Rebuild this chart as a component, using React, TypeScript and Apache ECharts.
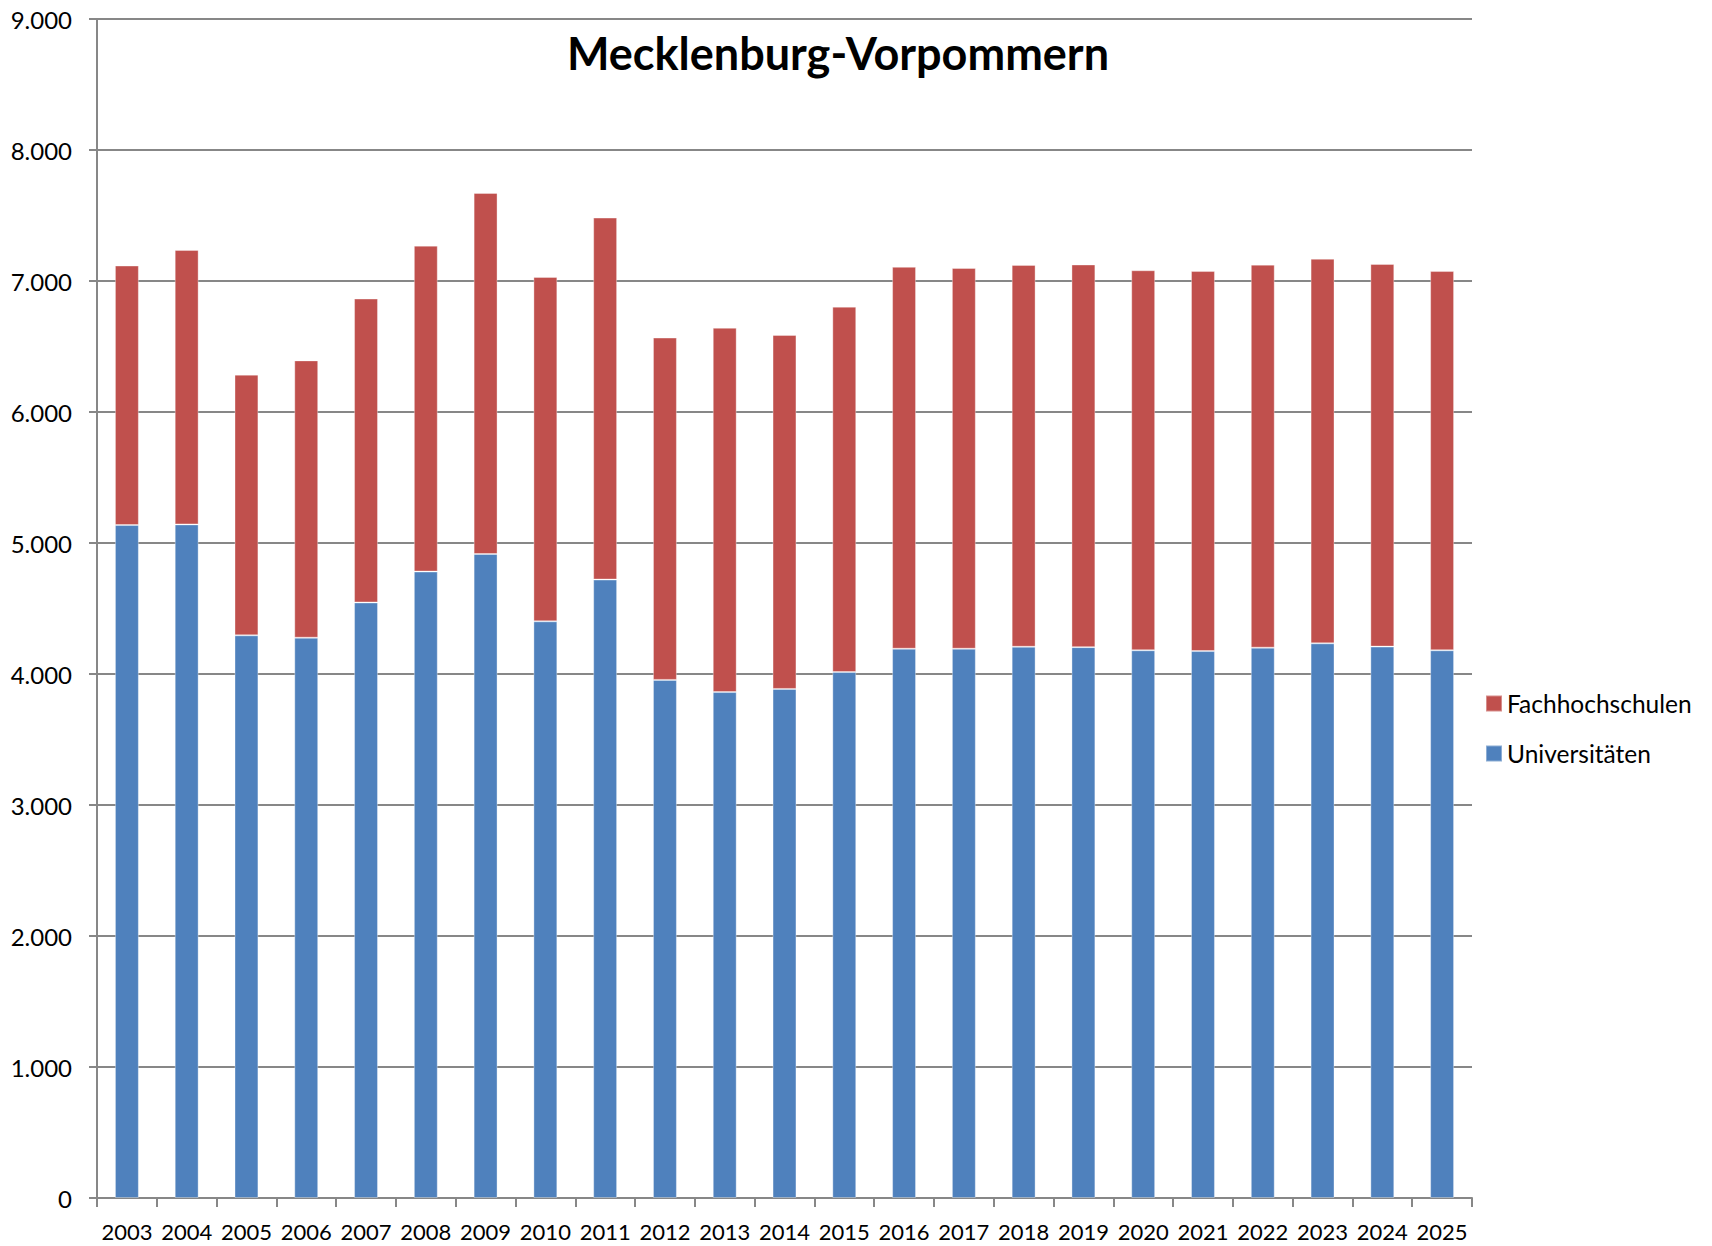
import React, { useEffect, useRef } from "react";
import * as echarts from "echarts";

const years = ["2003","2004","2005","2006","2007","2008","2009","2010","2011","2012","2013","2014","2015","2016","2017","2018","2019","2020","2021","2022","2023","2024","2025"];
const universitaeten = [5137,5142,4295,4277,4546,4782,4916,4402,4721,3955,3862,3886,4015,4193,4193,4208,4205,4181,4175,4201,4234,4209,4181];
const fachhochschulen = [1981,2095,1990,2117,2320,2488,2756,2629,2763,2613,2781,2702,2789,2915,2906,2915,2921,2901,2901,2924,2936,2921,2895];
const yTicks = [0, 1000, 2000, 3000, 4000, 5000, 6000, 7000, 8000, 9000];

const FONT = "Lato, 'Open Sans', sans-serif";
const GRAY = "#878787";

export default function App() {
  const ref = useRef<HTMLDivElement>(null);
  useEffect(() => {
    if (!ref.current) return;
    const chart = echarts.init(ref.current, null, { renderer: "svg" });
    chart.setOption({
      animation: false,
      backgroundColor: "#ffffff",
      title: {
        text: "Mecklenburg-Vorpommern",
        left: 833,
        textAlign: "center",
        top: 25,
        textStyle: { fontFamily: FONT, fontWeight: "bold", fontSize: 45, color: "#000" },
      },
      legend: {
        orient: "vertical",
        left: 1480,
        top: 686,
        itemWidth: 16,
        itemHeight: 16,
        itemGap: 25,
        icon: "rect",
        data: ["Fachhochschulen", "Universitäten"],
        textStyle: { fontFamily: FONT, fontSize: 24.5, color: "#000", lineHeight: 24 },
      },
      grid: { left: 97, right: 240, top: 19, bottom: 48, containLabel: false },
      xAxis: {
        type: "category",
        data: years,
        boundaryGap: true,
        axisLine: { lineStyle: { color: GRAY, width: 2 } },
        axisTick: { show: true, alignWithLabel: false, length: 9, lineStyle: { color: GRAY, width: 2 } },
        axisLabel: { fontFamily: FONT, fontSize: 22, color: "#000", margin: 22, interval: 0 },
        splitLine: { show: false },
      },
      yAxis: {
        type: "value",
        min: yTicks[0],
        max: yTicks[yTicks.length - 1],
        interval: 1000,
        axisLine: { show: true, lineStyle: { color: GRAY, width: 2 } },
        axisTick: { show: true, length: 8, lineStyle: { color: GRAY, width: 2 } },
        axisLabel: {
          fontFamily: FONT,
          fontSize: 24,
          color: "#000",
          margin: 25,
          formatter: (v: number) => String(v).replace(/\B(?=(\d{3})+(?!\d))/g, "."),
        },
        splitLine: { show: true, lineStyle: { color: GRAY, width: 2 } },
      },
      series: [
        {
          name: "Universitäten",
          type: "bar",
          stack: "total",
          data: universitaeten,
          barCategoryGap: "60%",
          itemStyle: { color: "#4F81BD", borderColor: "rgba(255,255,255,0.35)", borderWidth: 1 },
        },
        {
          name: "Fachhochschulen",
          type: "bar",
          stack: "total",
          data: fachhochschulen,
          barCategoryGap: "60%",
          itemStyle: { color: "#C0504D", borderColor: "rgba(255,255,255,0.35)", borderWidth: 1 },
        },
      ],
    });
    return () => chart.dispose();
  }, []);
  return <div ref={ref} style={{ position: "fixed", left: 0, top: 0, width: 1712, height: 1246 }} />;
}
